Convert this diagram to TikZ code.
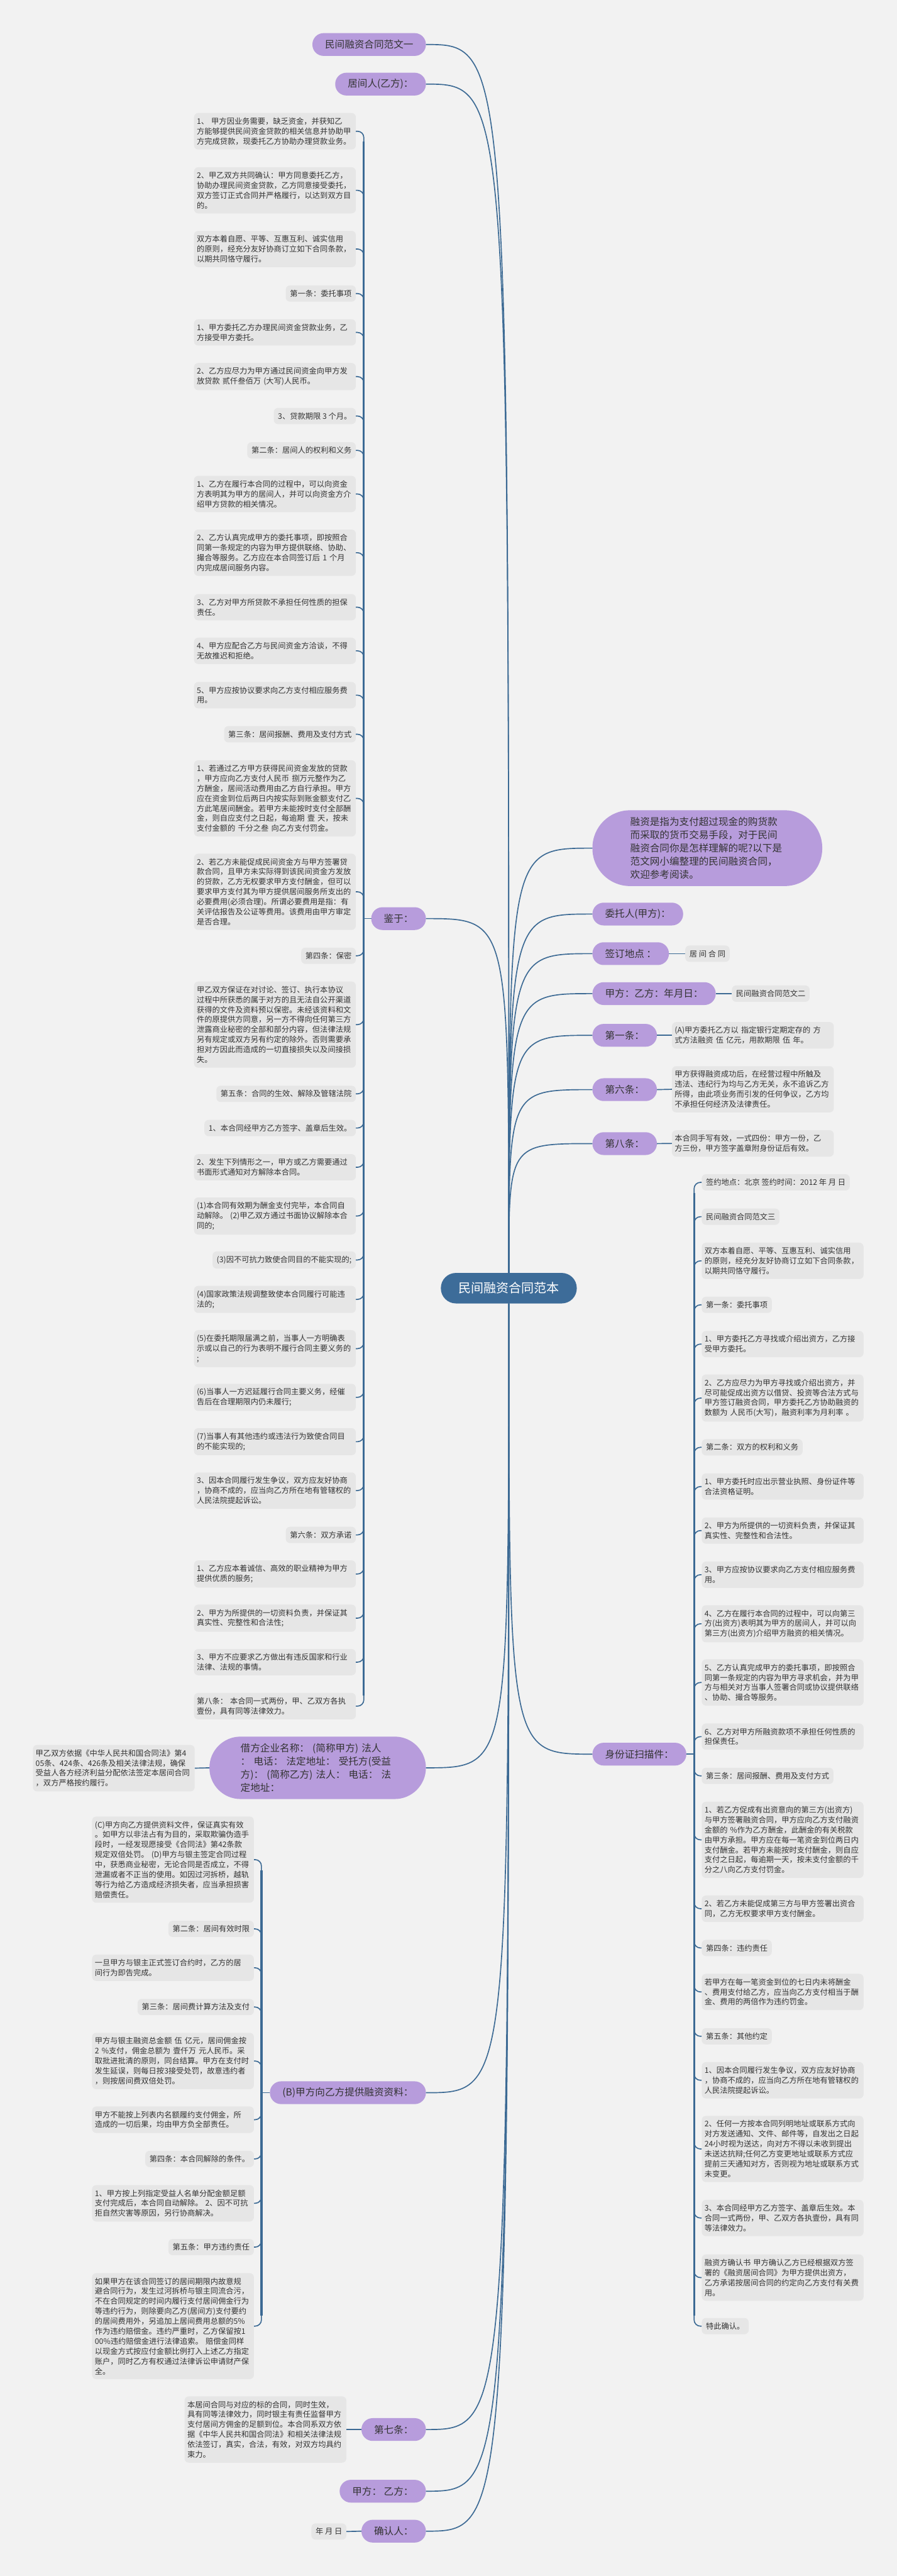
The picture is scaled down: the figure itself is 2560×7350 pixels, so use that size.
\documentclass[tikz,border=0pt]{standalone}
\usepackage{fontspec}
\setmainfont{Noto Sans CJK SC}
\definecolor{bgc}{HTML}{F2F2F2}
\definecolor{linec}{HTML}{3C6A94}
\definecolor{purp}{HTML}{B79CDC}
\definecolor{leafc}{HTML}{E6E6E6}
\definecolor{rootc}{HTML}{3D6C99}
\definecolor{txt}{HTML}{333333}
\tikzset{
  root/.style={fill=rootc, text=white, rounded corners=43pt, minimum height=87pt,
    inner xsep=50pt, font=\fontsize{36}{40}\selectfont},
  topic/.style={fill=purp, text=txt, rounded corners=32pt, minimum height=65pt,
    inner xsep=36pt, inner ysep=4pt, font=\fontsize{28}{38}\selectfont},
  bigtopic/.style={fill=purp, text=txt, align=left, text width=440pt, inner ysep=19pt,
    font=\fontsize{28}{38}\selectfont},
  leaf/.style={fill=leafc, text=txt, rounded corners=12pt, inner xsep=12pt,
    inner ysep=13pt, font=\fontsize{22}{28.5}\selectfont},
  para/.style={leaf, align=left, text width=446pt, inner xsep=8pt},
  link/.style={draw=linec, line width=3pt},
  hook/.style={link, rounded corners=18pt},
}
\begin{document}
\begin{tikzpicture}[x=1pt,y=-1pt]
\fill[bgc] (0,0) rectangle (2560,7350);

% centre
\node[root] (root) at (1452.5,3675.5) {民间融资合同范本};

% left topics
\node[topic, anchor=east] (fw1) at (1216,127) {民间融资合同范文一};
\node[topic, anchor=east] (jjr) at (1216,240) {居间人(乙方)：};
\node[topic, anchor=east] (jy) at (1216,2621) {鉴于：};
\node[bigtopic, rounded corners=89pt, inner xsep=89pt, anchor=east] (jf) at (1216,5044)
  {借方企业名称： (简称甲方) 法人\\： 电话： 法定地址： 受托方(受益\\方)： (简称乙方) 法人： 电话： 法\\定地址：};
\node[topic, anchor=east] (zlB) at (1216,5971) {(B)甲方向乙方提供融资资料：};
\node[topic, anchor=east] (d7) at (1216,6932) {第七条：};
\node[topic, anchor=east] (jfyf) at (1216,7108) {甲方：\ 乙方：};
\node[topic, anchor=east] (qrr) at (1216,7222) {确认人：};

% right topics
\node[bigtopic, rounded corners=107pt, inner xsep=108pt, anchor=west] (rz) at (1691,2420)
  {融资是指为支付超过现金的购货款\\而采取的货币交易手段，对于民间\\融资合同你是怎样理解的呢?以下是\\范文网小编整理的民间融资合同，\\欢迎参考阅读。};
\node[topic, anchor=west] (wtr) at (1691,2608) {委托人(甲方)：};
\node[topic, anchor=west] (qd) at (1691,2721) {签订地点 ：};
\node[topic, anchor=west] (jyr) at (1691,2835) {甲方：乙方：年月日：};
\node[topic, anchor=west] (d1) at (1691,2954) {第一条：};
\node[topic, anchor=west] (d6) at (1691,3109) {第六条：};
\node[topic, anchor=west] (d8) at (1691,3263) {第八条：};
\node[topic, anchor=west] (sfz) at (1691,5005) {身份证扫描件：};

% single children
\node[leaf, anchor=west] (qd1) at (1956,2721) {居 间 合 同};
\node[leaf, anchor=west] (jyr1) at (2089,2835) {民间融资合同范文二};
\node[para, anchor=west] (d1c) at (1918,2954) {(A)甲方委托乙方以 指定银行定期定存的 方\\式方法融资 伍 亿元，用款期限 伍 年。};
\node[para, anchor=west] (d6c) at (1918,3108) {甲方获得融资成功后，在经营过程中所触及\\违法、违纪行为均与乙方无关，永不追诉乙方\\所得，由此项业务而引发的任何争议，乙方均\\不承担任何经济及法律责任。};
\node[para, anchor=west] (d8c) at (1918,3262.5) {本合同手写有效，一式四份：甲方一份，乙\\方三份，甲方签字盖章附身份证后有效。};
\node[para, anchor=east] (jf1) at (556,5045) {甲乙双方依据《中华人民共和国合同法》第4\\05条、424条、426条及相关法律法规，确保\\受益人各方经济利益分配依法签定本居间合同\\，双方严格按约履行。};
\node[para, anchor=east] (d7c) at (989,6932) {本居间合同与对应的标的合同，同时生效，\\具有同等法律效力，同时银主有责任监督甲方\\支付居间方佣金的足额到位。本合同系双方依\\据《中华人民共和国合同法》和相关法律法规\\依法签订，真实，合法，有效，对双方均具约\\束力。};
\node[leaf, anchor=east] (qrr1) at (989,7223) {年 月 日};

% 鉴于 children
\node[para, anchor=east] (jy1) at (1016,374.5) {1、 甲方因业务需要，缺乏资金，并获知乙\\方能够提供民间资金贷款的相关信息并协助甲\\方完成贷款，现委托乙方协助办理贷款业务。};
\node[para, anchor=east] (jy2) at (1016,543) {2、甲乙双方共同确认：甲方同意委托乙方，\\协助办理民间资金贷款，乙方同意接受委托，\\双方签订正式合同并严格履行，以达到双方目\\的。};
\node[para, anchor=east] (jy3) at (1016,710.5) {双方本着自愿、平等、互惠互利、诚实信用\\的原则，经充分友好协商订立如下合同条款，\\以期共同恪守履行。};
\node[leaf, anchor=east] (jy4) at (1016,837.5) {第一条：委托事项};
\node[para, anchor=east] (jy5) at (1016,948.5) {1、甲方委托乙方办理民间资金贷款业务，乙\\方接受甲方委托。};
\node[para, anchor=east] (jy6) at (1016,1074.5) {2、乙方应尽力为甲方通过民间资金向甲方发\\放贷款 贰仟叁佰万 (大写)人民币。};
\node[leaf, anchor=east] (jy7) at (1016,1187) {3、贷款期限 3 个月。};
\node[leaf, anchor=east] (jy8) at (1016,1285) {第二条：居间人的权利和义务};
\node[para, anchor=east] (jy9) at (1016,1409.5) {1、乙方在履行本合同的过程中，可以向资金\\方表明其为甲方的居间人，并可以向资金方介\\绍甲方贷款的相关情况。};
\node[para, anchor=east] (jy10) at (1016,1577) {2、乙方认真完成甲方的委托事项，即按照合\\同第一条规定的内容为甲方提供联络、协助、\\撮合等服务。乙方应在本合同签订后 1 个月\\内完成居间服务内容。};
\node[para, anchor=east] (jy11) at (1016,1732.5) {3、乙方对甲方所贷款不承担任何性质的担保\\责任。};
\node[para, anchor=east] (jy12) at (1016,1857) {4、甲方应配合乙方与民间资金方洽谈，不得\\无故推迟和拒绝。};
\node[para, anchor=east] (jy13) at (1016,1983.5) {5、甲方应按协议要求向乙方支付相应服务费\\用。};
\node[leaf, anchor=east] (jy14) at (1016,2095) {第三条：居间报酬、费用及支付方式};
\node[para, anchor=east] (jy15) at (1016,2278) {1、若通过乙方甲方获得民间资金发放的贷款\\，甲方应向乙方支付人民币 捌万元整作为乙\\方酬金，居间活动费用由乙方自行承担。甲方\\应在资金到位后两日内按实际到账金额支付乙\\方此笔居间酬金。若甲方未能按时支付全部酬\\金，则自应支付之日起，每逾期 壹 天，按未\\支付金额的 千分之叁 向乙方支付罚金。};
\node[para, anchor=east] (jy16) at (1016,2544.5) {2、若乙方未能促成民间资金方与甲方签署贷\\款合同，且甲方未实际得到该民间资金方发放\\的贷款，乙方无权要求甲方支付酬金，但可以\\要求甲方支付其为甲方提供居间服务所支出的\\必要费用(必须合理)。所谓必要费用是指：有\\关评估报告及公证等费用。该费用由甲方审定\\是否合理。};
\node[leaf, anchor=east] (jy17) at (1016,2727) {第四条：保密};
\node[para, anchor=east] (jy18) at (1016,2923.5) {甲乙双方保证在对讨论、签订、执行本协议\\过程中所获悉的属于对方的且无法自公开渠道\\获得的文件及资料预以保密。未经该资料和文\\件的原提供方同意，另一方不得向任何第三方\\泄露商业秘密的全部和部分内容，但法律法规\\另有规定或双方另有约定的除外。否则需要承\\担对方因此而造成的一切直接损失以及间接损\\失。};
\node[leaf, anchor=east] (jy19) at (1016,3121) {第五条：合同的生效、解除及管辖法院};
\node[leaf, anchor=east] (jy20) at (1016,3218.5) {1、本合同经甲方乙方签字、盖章后生效。};
\node[para, anchor=east] (jy21) at (1016,3330.5) {2、发生下列情形之一，甲方或乙方需要通过\\书面形式通知对方解除本合同。};
\node[para, anchor=east] (jy22) at (1016,3469.5) {(1)本合同有效期为酬金支付完毕，本合同自\\动解除。 (2)甲乙双方通过书面协议解除本合\\同的;};
\node[leaf, anchor=east] (jy23) at (1016,3595) {(3)因不可抗力致使合同目的不能实现的;};
\node[para, anchor=east] (jy24) at (1016,3707.5) {(4)国家政策法规调整致使本合同履行可能违\\法的;};
\node[para, anchor=east] (jy25) at (1016,3848) {(5)在委托期限届满之前，当事人一方明确表\\示或以自己的行为表明不履行合同主要义务的\\;};
\node[para, anchor=east] (jy26) at (1016,3987) {(6)当事人一方迟延履行合同主要义务，经催\\告后在合理期限内仍未履行;};
\node[para, anchor=east] (jy27) at (1016,4113.5) {(7)当事人有其他违约或违法行为致使合同目\\的不能实现的;};
\node[para, anchor=east] (jy28) at (1016,4253) {3、因本合同履行发生争议，双方应友好协商\\，协商不成的，应当向乙方所在地有管辖权的\\人民法院提起诉讼。};
\node[leaf, anchor=east] (jy29) at (1016,4379.5) {第六条：双方承诺};
\node[para, anchor=east] (jy30) at (1016,4491) {1、乙方应本着诚信、高效的职业精神为甲方\\提供优质的服务;};
\node[para, anchor=east] (jy31) at (1016,4617) {2、甲方为所提供的一切资料负责，并保证其\\真实性、完整性和合法性;};
\node[para, anchor=east] (jy32) at (1016,4742.5) {3、甲方不应要求乙方做出有违反国家和行业\\法律、法规的事情。};
\node[para, anchor=east] (jy33) at (1016,4868) {第八条： 本合同一式两份，甲、乙双方各执\\壹份，具有同等法律效力。};

% (B) children
\node[para, anchor=east] (zlB1) at (725,5306) {(C)甲方向乙方提供资料文件，保证真实有效\\。如甲方以非法占有为目的，采取欺骗伪造手\\段时，一经发现愿接受《合同法》第42条款\\规定双倍处罚。 (D)甲方与银主签定合同过程\\中，获悉商业秘密，无论合同是否成立，不得\\泄漏或者不正当的使用。如因过河拆桥，越轨\\等行为给乙方造成经济损失者，应当承担损害\\赔偿责任。};
\node[leaf, anchor=east] (zlB2) at (725,5503.5) {第二条：居间有效时限};
\node[para, anchor=east] (zlB3) at (725,5614.5) {一旦甲方与银主正式签订合约时，乙方的居\\间行为即告完成。};
\node[leaf, anchor=east] (zlB4) at (725,5726.5) {第三条：居间费计算方法及支付};
\node[para, anchor=east] (zlB5) at (725,5880.5) {甲方与银主融资总金额 伍 亿元，居间佣金按\\ 2 \%支付，佣金总额为 壹仟万 元人民币。采\\取批进批清的原则，同台结算。甲方在支付时\\发生延误，则每日按3接受处罚，故意违约者\\，则按居间费双倍处罚。};
\node[para, anchor=east] (zlB6) at (725,6048) {甲方不能按上列表内名额履约支付佣金，所\\造成的一切后果，均由甲方负全部责任。};
\node[leaf, anchor=east] (zlB7) at (725,6160) {第四条：本合同解除的条件。};
\node[para, anchor=east] (zlB8) at (725,6286.5) {1、甲方按上列指定受益人名单分配金额足额\\支付完成后，本合同自动解除。 2、因不可抗\\拒自然灾害等原因，另行协商解决。};
\node[leaf, anchor=east] (zlB9) at (725,6411.5) {第五条：甲方违约责任};
\node[para, anchor=east] (zlB10) at (725,6637) {如果甲方在该合同签订的居间期限内故意规\\避合同行为，发生过河拆桥与银主同流合污，\\不在合同规定的时间内履行支付居间佣金行为\\等违约行为，则除要向乙方(居间方)支付要约\\的居间费用外，另追加上居间费用总额的5\%\\作为违约赔偿金。违约严重时，乙方保留按1\\00\%违约赔偿金进行法律追索。 赔偿金同样\\以现金方式按应付金额比例打入上述乙方指定\\账户，同时乙方有权通过法律诉讼申请财产保\\全。};

% 身份证扫描件 children
\node[leaf, anchor=west] (sfz1) at (2003,3373.5) {签约地点：北京 签约时间：2012 年 月 日};
\node[leaf, anchor=west] (sfz2) at (2003,3471.5) {民间融资合同范文三};
\node[para, anchor=west] (sfz3) at (2003,3597.5) {双方本着自愿、平等、互惠互利、诚实信用\\的原则，经充分友好协商订立如下合同条款，\\以期共同恪守履行。};
\node[leaf, anchor=west] (sfz4) at (2003,3723) {第一条：委托事项};
\node[para, anchor=west] (sfz5) at (2003,3835) {1、甲方委托乙方寻找或介绍出资方，乙方接\\受甲方委托。};
\node[para, anchor=west] (sfz6) at (2003,3989) {2、乙方应尽力为甲方寻找或介绍出资方，并\\尽可能促成出资方以借贷、投资等合法方式与\\甲方签订融资合同，甲方委托乙方协助融资的\\数额为 人民币(大写)，融资利率为月利率 。};
\node[leaf, anchor=west] (sfz7) at (2003,4129.5) {第二条：双方的权利和义务};
\node[para, anchor=west] (sfz8) at (2003,4241.5) {1、甲方委托时应出示营业执照、身份证件等\\合法资格证明。};
\node[para, anchor=west] (sfz9) at (2003,4367) {2、甲方为所提供的一切资料负责，并保证其\\真实性、完整性和合法性。};
\node[para, anchor=west] (sfz10) at (2003,4493) {3、甲方应按协议要求向乙方支付相应服务费\\用。};
\node[para, anchor=west] (sfz11) at (2003,4633) {4、乙方在履行本合同的过程中，可以向第三\\方(出资方)表明其为甲方的居间人，并可以向\\第三方(出资方)介绍甲方融资的相关情况。};
\node[para, anchor=west] (sfz12) at (2003,4800.5) {5、乙方认真完成甲方的委托事项，即按照合\\同第一条规定的内容为甲方寻求机会，并为甲\\方与相关对方当事人签署合同或协议提供联络\\、协助、撮合等服务。};
\node[para, anchor=west] (sfz13) at (2003,4955) {6、乙方对甲方所融资款项不承担任何性质的\\担保责任。};
\node[leaf, anchor=west] (sfz14) at (2003,5067) {第三条：居间报酬、费用及支付方式};
\node[para, anchor=west] (sfz15) at (2003,5249.5) {1、若乙方促成有出资意向的第三方(出资方)\\与甲方签署融资合同，甲方应向乙方支付融资\\金额的 \%作为乙方酬金，此酬金的有关税款\\由甲方承担。甲方应在每一笔资金到位两日内\\支付酬金。若甲方未能按时支付酬金，则自应\\支付之日起，每逾期一天，按未支付金额的千\\分之八向乙方支付罚金。};
\node[para, anchor=west] (sfz16) at (2003,5446) {2、若乙方未能促成第三方与甲方签署出资合\\同，乙方无权要求甲方支付酬金。};
\node[leaf, anchor=west] (sfz17) at (2003,5558) {第四条：违约责任};
\node[para, anchor=west] (sfz18) at (2003,5683.5) {若甲方在每一笔资金到位的七日内未将酬金\\、费用支付给乙方，应当向乙方支付相当于酬\\金、费用的两倍作为违约罚金。};
\node[leaf, anchor=west] (sfz19) at (2003,5810) {第五条：其他约定};
\node[para, anchor=west] (sfz20) at (2003,5935.5) {1、因本合同履行发生争议，双方应友好协商\\，协商不成的，应当向乙方所在地有管辖权的\\人民法院提起诉讼。};
\node[para, anchor=west] (sfz21) at (2003,6131.5) {2、任何一方按本合同列明地址或联系方式向\\对方发送通知、文件、邮件等，自发出之日起\\24小时视为送达，向对方不得以未收到提出\\未送达抗辩;任何乙方变更地址或联系方式应\\提前三天通知对方，否则视为地址或联系方式\\未变更。};
\node[para, anchor=west] (sfz22) at (2003,6328.5) {3、本合同经甲方乙方签字、盖章后生效。本\\合同一式两份，甲、乙双方各执壹份，具有同\\等法律效力。};
\node[para, anchor=west] (sfz23) at (2003,6498.5) {融资方确认书 甲方确认乙方已经根据双方签\\署的《融资居间合同》为甲方提供出资方，\\乙方承诺按居间合同的约定向乙方支付有关费\\用。};
\node[leaf, anchor=west] (sfz24) at (2003,6637) {特此确认。};

% connectors from the centre
\foreach \t in {fw1,jjr,jy}
  \draw[link] (root.north) .. controls (root.north |- \t.east) .. (\t.east);
\foreach \t in {rz,wtr,qd,jyr,d1,d6,d8}
  \draw[link] (root.north) .. controls (root.north |- \t.west) .. (\t.west);
\foreach \t in {jf,zlB,d7,jfyf,qrr}
  \draw[link] (root.south) .. controls (root.south |- \t.east) .. (\t.east);
\draw[link] (root.south) .. controls (root.south |- sfz.west) .. (sfz.west);

% single children
\draw[link] (qd.east) -- (qd1.west);
\draw[link] (jyr.east) -- (jyr1.west);
\draw[link] (d1.east) -- (d1c.west);
\draw[link] (d6.east) -- (d6c.west);
\draw[link] (d8.east) -- (d8c.west);
\draw[link] (jf.west) -- (jf1.east);
\draw[link] (d7.west) -- (d7c.east);
\draw[link] (qrr.west) -- (qrr1.east);

% bundles
\coordinate (jyT) at ([xshift=-21pt]jy.west);
\coordinate (zlBT) at ([xshift=-24pt]zlB.west);
\coordinate (sfzT) at ([xshift=22pt]sfz.east);
\draw[link] (jy.west) -- (jyT);
\draw[link] (zlB.west) -- (zlBT);
\draw[link] (sfz.east) -- (sfzT);
\draw[linec, line width=6pt, shorten <=30pt, shorten >=30pt] (jyT |- jy1.east) -- (jyT |- jy33.east);
\draw[linec, line width=6pt, shorten <=30pt, shorten >=30pt] (zlBT |- zlB1.east) -- (zlBT |- zlB10.east);
\draw[linec, line width=6pt, shorten <=30pt, shorten >=30pt] (sfzT |- sfz1.west) -- (sfzT |- sfz24.west);
\foreach \i in {1,...,33}
  \draw[hook] (jyT) |- (jy\i.east);
\foreach \i in {1,...,10}
  \draw[hook] (zlBT) |- (zlB\i.east);
\foreach \i in {1,...,24}
  \draw[hook] (sfzT) |- (sfz\i.west);
\end{tikzpicture}
\end{document}
